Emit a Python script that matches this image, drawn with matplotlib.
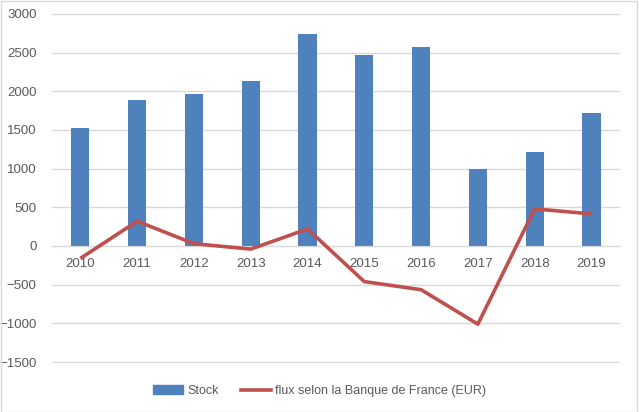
import matplotlib
matplotlib.use("Agg")
import matplotlib.pyplot as plt
from matplotlib.lines import Line2D
from matplotlib.patches import Patch, Rectangle

years = ['2010', '2011', '2012', '2013', '2014', '2015', '2016', '2017', '2018', '2019']
stock = [1525, 1885, 1965, 2130, 2740, 2470, 2575, 990, 1210, 1715]
flux = [-160, 320, 30, -40, 220, -460, -565, -1010, 480, 415]

plt.rcParams['font.family'] = ['Liberation Sans', 'DejaVu Sans']
txt = '#595959'
grid = '#D9D9D9'

fig = plt.figure(figsize=(6.39, 4.12), dpi=100)
ax = fig.add_axes([0.0814, 0.1190, 0.8886, 0.8495])

x = list(range(len(years)))
ax.bar(x, stock, width=0.32, color='#4F81BD', zorder=2)
ax.plot(x, flux, color='#C0504D', lw=2.6, zorder=3, solid_capstyle='butt')

ax.set_xlim(-0.5, len(years) - 0.5)
ax.set_ylim(-1512, 3012)
ax.set_yticks(range(-1500, 3001, 500))
ax.yaxis.grid(True, color=grid, lw=1)
ax.set_axisbelow(True)
for s in ['left', 'right', 'top']:
    ax.spines[s].set_visible(False)
ax.spines['bottom'].set_position(('data', 0))
ax.spines['bottom'].set_color(grid)
ax.set_xticks(x)
ax.set_xticklabels(years)
ax.tick_params(axis='both', length=0, labelsize=9.5, labelcolor=txt)
ax.tick_params(axis='y', pad=11)
ax.tick_params(axis='x', pad=9)

handles = [Patch(color='#4F81BD'), Line2D([0], [0], color='#C0504D', lw=2.6)]
fig.legend(handles, ['Stock', 'flux selon la Banque de France (EUR)'],
           loc='center', bbox_to_anchor=(0.5, 1 - 391 / 412), ncol=2,
           frameon=False, fontsize=9, labelcolor=txt, handlelength=2.4,
           handleheight=0.7, columnspacing=1.8, handletextpad=0.3)

fig.patches.append(Rectangle((0.001, 0.001), 0.996, 0.997, transform=fig.transFigure,
                             fill=False, edgecolor='#D9D9D9', lw=1))

fig.savefig('out.png', dpi=100)
